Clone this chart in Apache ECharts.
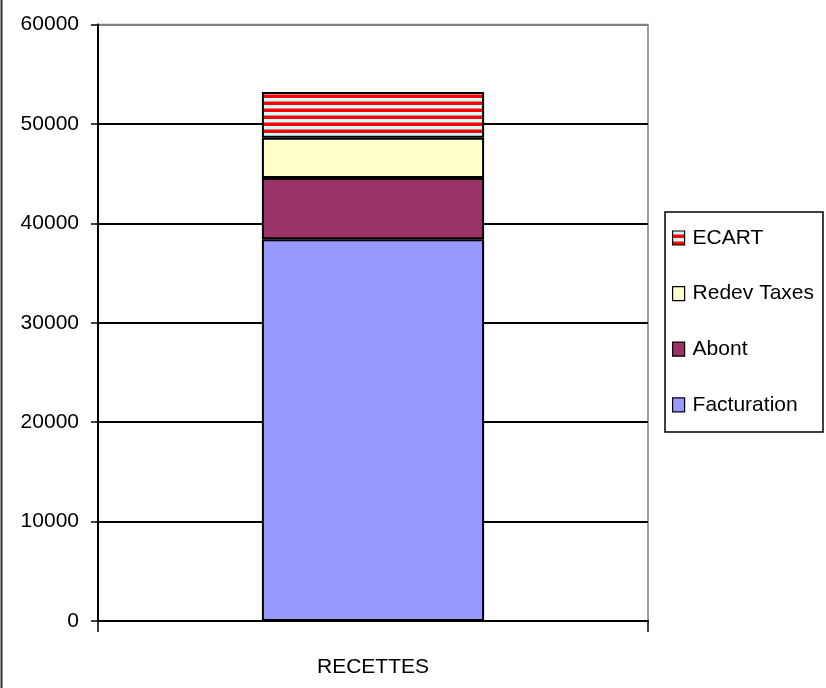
<!DOCTYPE html>
<html>
<head>
<meta charset="utf-8">
<script src="https://cdn.jsdelivr.net/npm/echarts@6/dist/echarts.min.js"></script>
<style>
html,body{margin:0;padding:0;background:#fff;}
#chart{width:826px;height:688px;}
</style>
</head>
<body>
<div id="chart"></div>
<script>
const categories = ['RECETTES'];
const seriesNames = ['Facturation', 'Abont', 'Redev Taxes', 'ECART'];
const facturation = [38400];
const abont = [6150];
const redevTaxes = [4050];
const ecart = [4600];
const yTicks = [0, 10000, 20000, 30000, 40000, 50000, 60000];

const FONT = '"Liberation Sans", Arial, sans-serif';
const FS = 21;

// striped pattern for ECART (red / light cyan horizontal stripes)
const pc = document.createElement('canvas');
pc.width = 8; pc.height = 7;
const pctx = pc.getContext('2d');
pctx.fillStyle = '#ccffff'; pctx.fillRect(0, 0, 8, 7);
pctx.fillStyle = '#ff0000'; pctx.fillRect(0, 3.5, 8, 3.5);

const chart = echarts.init(document.getElementById('chart'), null, {renderer: 'canvas'});

const gridColors = yTicks.map((v, i) => i === yTicks.length - 1 ? '#808080' : '#000000');

function mk(name, data, color) {
  return {
    name: name,
    type: 'bar',
    stack: 'total',
    data: data,
    barWidth: '40.4%',
    itemStyle: {color: color, borderColor: '#000', borderWidth: 2},
    emphasis: {disabled: true}
  };
}

chart.setOption({
  animation: false,
  backgroundColor: '#fff',
  textStyle: {fontFamily: FONT},
  grid: {
    left: 98, right: 178, top: 24.5, bottom: 67,
    containLabel: false, outerBoundsMode: 'none',
    show: true, borderColor: '#808080', borderWidth: 1.5, backgroundColor: '#fff'
  },
  legend: {
    data: ['ECART', 'Redev Taxes', 'Abont', 'Facturation'],
    orient: 'vertical',
    left: 665, top: 212,
    padding: [13, 0, 0, 7],
    itemWidth: 12, itemHeight: 14,
    itemGap: 29.6,
    icon: 'rect',
    itemStyle: {borderColor: '#000', borderWidth: 1.2},
    textStyle: {fontFamily: FONT, fontSize: FS, color: '#000', lineHeight: 26, padding: [0, 0, 0, 3]},
    selectedMode: false
  },
  xAxis: {
    type: 'category',
    data: categories,
    axisLine: {lineStyle: {color: '#000', width: 2}},
    axisTick: {show: true, length: 11, lineStyle: {color: '#000', width: 1.5}},
    axisLabel: {color: '#000', fontSize: FS, fontFamily: FONT, margin: 36}
  },
  yAxis: {
    type: 'value',
    min: 0, max: 60000, interval: 10000,
    axisLine: {show: true, lineStyle: {color: '#000', width: 2}},
    axisTick: {show: true, length: 7, lineStyle: {color: '#000', width: 1.5}},
    axisLabel: {color: '#000', fontSize: FS, fontFamily: FONT, margin: 19,
                formatter: function (v) { return String(v); }},
    splitLine: {show: true, lineStyle: {color: gridColors, width: 2}}
  },
  series: [
    mk('Facturation', facturation, '#9999ff'),
    mk('Abont', abont, '#993366'),
    mk('Redev Taxes', redevTaxes, '#ffffcc'),
    mk('ECART', ecart, {image: pc, repeat: 'repeat'})
  ],
  graphic: [
    {type: 'rect', shape: {x: 665, y: 212, width: 158, height: 220},
     style: {fill: null, stroke: '#000', lineWidth: 1.5}, z: 100, silent: true},
    {type: 'line', shape: {x1: 1.5, y1: 0, x2: 1.5, y2: 688},
     style: {stroke: '#333', lineWidth: 2}, z: 100, silent: true}
  ]
});
</script>
</body>
</html>
